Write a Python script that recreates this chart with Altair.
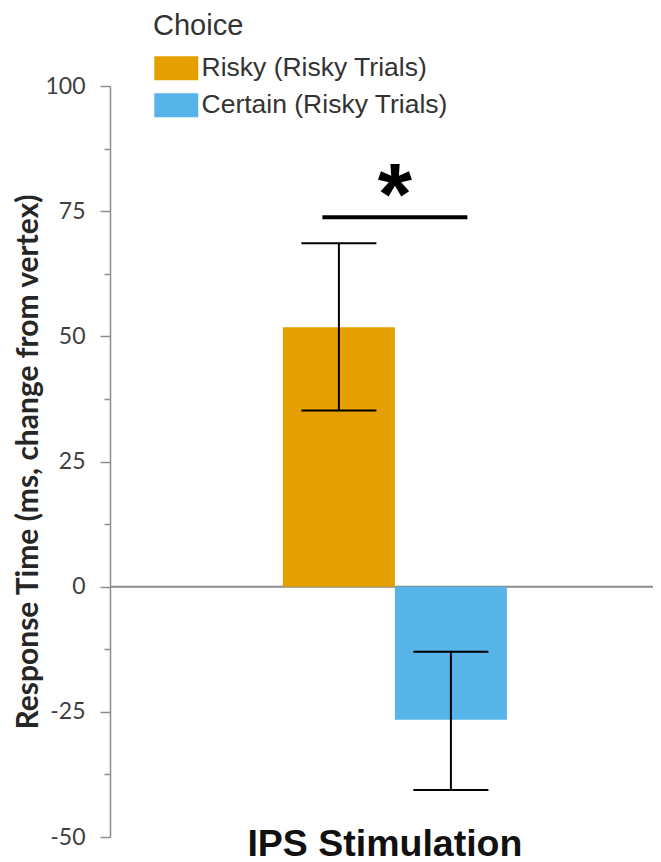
import altair as alt
import pandas as pd

# ---- data ----
stimulation = "IPS Stimulation"
choices = ["Risky (Risky Trials)", "Certain (Risky Trials)"]
means = [51.8, -26.6]
err_low = [35.2, -40.6]
err_high = [68.6, -13.0]
colors = ["#E69F00", "#56B4E9"]
y_ticks = [-50, -37.5, -25, -12.5, 0, 12.5, 25, 37.5, 50, 62.5, 75, 87.5, 100]
sig_level = [73.8]
sig_label = ["*"]

df = pd.DataFrame({
    "Stimulation": [stimulation] * len(choices),
    "Choice": choices,
    "mean": means,
    "lo": err_low,
    "hi": err_high,
})
sig_df = pd.DataFrame({"Stimulation": [stimulation], "y": sig_level, "label": sig_label})
zero_df = pd.DataFrame({"zero": [0]})

x_scale = alt.Scale(paddingInner=0, paddingOuter=0.712, align=0.542)
x_axis = alt.Axis(
    title=None, labelAngle=0, ticks=False, tickSize=0, domain=False,
    labelFont="Liberation Sans", labelFontWeight="bold", labelFontSize=37.5,
    labelColor="#111111", labelBaseline="alphabetic", labelPadding=18,
    labelOffset=-10, labelLimit=0,
)
x_enc = alt.X("Stimulation:N", scale=x_scale, axis=x_axis)
xo = alt.XOffset("Choice:N", sort=choices, scale=alt.Scale(paddingInner=0, paddingOuter=0))

y_scale = alt.Scale(domain=[-50, 100], nice=False, zero=False)
y_axis = alt.Axis(
    title="Response Time (ms, change from vertex)",
    values=y_ticks,
    labelExpr="datum.value % 25 === 0 ? replace(datum.label, '\u2212', '-') : ''",
    tickSize={"condition": {"test": "datum.value % 25 === 0", "value": 10}, "value": 6},
    grid=False,
    domainColor="#8c8c8c", domainWidth=1.5,
    tickColor="#8c8c8c", tickWidth=1.5,
    labelFont="Lato", labelFontSize=23, labelColor="#404040", labelPadding=15,
    titleFont="Lato", titleFontSize=30, titleFontWeight="bold", titleColor="#262626",
    titleX=-73, titleY=375.5, titleBaseline="alphabetic",
)


def Y(field):
    return alt.Y(field, scale=y_scale, axis=y_axis)


zero_line = alt.Chart(zero_df).mark_rule(color="#8c8c8c", strokeWidth=2).encode(
    y=Y("zero:Q")
)

bars = alt.Chart(df).mark_bar().encode(
    x=x_enc,
    xOffset=xo,
    y=Y("mean:Q"),
    color=alt.Color(
        "Choice:N",
        sort=choices,
        scale=alt.Scale(domain=choices, range=colors),
        legend=alt.Legend(
            title="Choice", orient="none", legendX=43, legendY=-74, padding=0,
            symbolType="M-1,-1H2.667V1H-1Z", symbolSize=576,
            symbolStrokeWidth=0, symbolOpacity=1,
            titleFont="Liberation Sans", titleFontSize=29, titleFontWeight="normal",
            titleColor="#333333", titlePadding=14,
            labelFont="Liberation Sans", labelFontSize=26.5, labelColor="#333333",
            labelOffset=22, rowPadding=10, labelLimit=500,
        ),
    ),
)

err_rule = alt.Chart(df).mark_rule(color="black", strokeWidth=2).encode(
    x=x_enc, xOffset=xo, y=Y("lo:Q"), y2="hi:Q",
)
cap_lo = alt.Chart(df).mark_tick(color="black", thickness=2, size=75, opacity=1).encode(
    x=x_enc, xOffset=xo, y=Y("lo:Q")
)
cap_hi = alt.Chart(df).mark_tick(color="black", thickness=2, size=75, opacity=1).encode(
    x=x_enc, xOffset=xo, y=Y("hi:Q")
)

sig_line = alt.Chart(sig_df).mark_tick(color="black", thickness=4, size=145, opacity=1).encode(
    x=x_enc, y=Y("y:Q")
)
sig_star = alt.Chart(sig_df).mark_text(
    font="Liberation Sans", fontWeight="bold", fontSize=88, baseline="alphabetic",
    dy=7, color="black",
).encode(
    x=x_enc, y=Y("y:Q"), text="label:N"
)

chart = alt.layer(
    zero_line, bars, err_rule, cap_lo, cap_hi, sig_line, sig_star
).properties(
    width=543, height=751,
    autosize=alt.AutoSizeParams(type="none"),
    padding={"left": 102, "top": 78, "right": 0, "bottom": 28},
).configure_view(stroke=None)

chart.save("out.html", embed_options={"renderer": "svg", "actions": False})
